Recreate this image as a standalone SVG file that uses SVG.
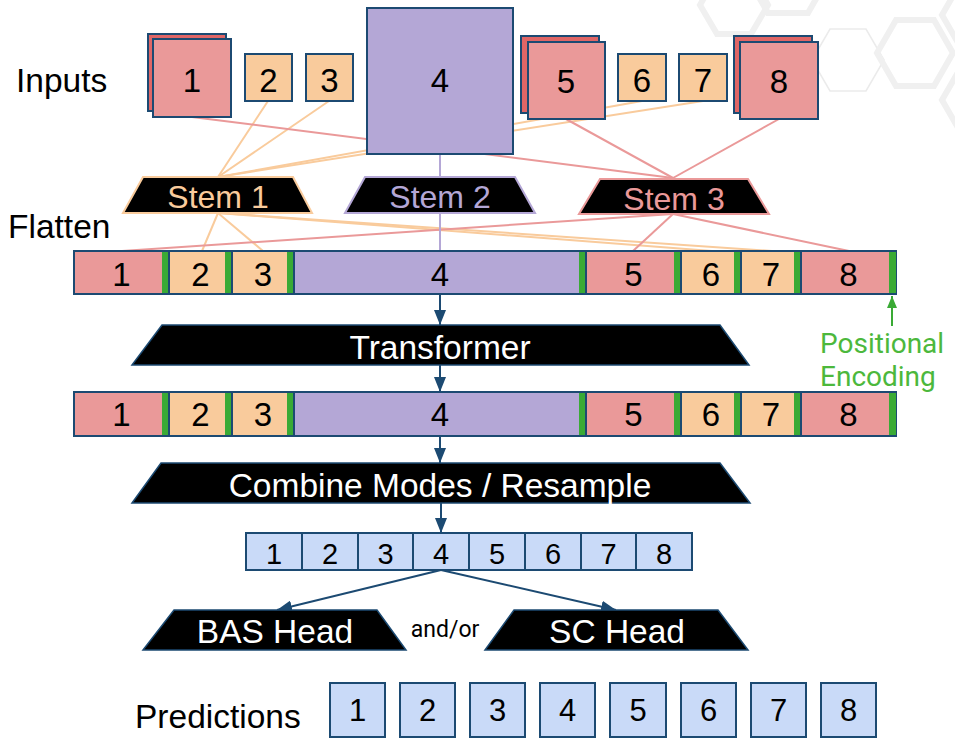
<svg xmlns="http://www.w3.org/2000/svg" width="955" height="741" viewBox="0 0 955 741">
<style>
  .lbl{font-family:"Liberation Sans",Arial,sans-serif;font-size:33.5px;fill:#000}
  .num{font-family:"Liberation Sans",Arial,sans-serif;font-size:33px;fill:#000;text-anchor:middle}
  .numS{font-family:"Liberation Sans",Arial,sans-serif;font-size:29px;fill:#000;text-anchor:middle}
  .numP{font-family:"Liberation Sans",Arial,sans-serif;font-size:31px;fill:#000;text-anchor:middle}
  .box{stroke:#1c4a72;stroke-width:2}
  .pink{fill:#EA9999}
  .pinkD{fill:#E06666}
  .peach{fill:#F9CB9C}
  .purple{fill:#B4A7D6}
  .blue{fill:#C9DAF8}
  .pe{fill:#3aaa35}
  .trap{fill:#000}
  .ttxt{font-family:"Liberation Sans",Arial,sans-serif;font-size:33.5px;fill:#fff;text-anchor:middle}
  .stxt{font-family:"Liberation Sans",Arial,sans-serif;font-size:32px;text-anchor:middle}
  .lp{stroke:#F9CB9C;stroke-width:2;fill:none}
  .lk{stroke:#EA9999;stroke-width:2;fill:none}
  .lv{stroke:#B4A7D6;stroke-width:2;fill:none}
  .arr{stroke:#1c4a72;stroke-width:2;fill:none;marker-end:url(#ah)}
  .hexT{fill:none;stroke:#f0f0f0;stroke-width:6}
  .hext{fill:none;stroke:#ebebeb;stroke-width:1.5}
</style>
<defs>
  <marker id="ah" viewBox="0 0 15 12" refX="15" refY="6" markerWidth="15" markerHeight="12" markerUnits="userSpaceOnUse" orient="auto">
    <path d="M0,0 L15,6 L0,12 z" fill="#1c4a72"/>
  </marker>
  <marker id="ahg" viewBox="0 0 12 10" refX="12" refY="5" markerWidth="12" markerHeight="10" markerUnits="userSpaceOnUse" orient="auto">
    <path d="M0,0 L12,5 L0,10 z" fill="#3aaa35"/>
  </marker>
</defs>

<g id="background">
  <polygon class="hexT" points="700,5 717,-25 751,-25 768,5 751,34 717,34"/>
  <polygon class="hexT" points="748,-22 768,-57 808,-57 828,-22 808,13 768,13"/>
  <polygon class="hext" points="812,60 830,29 866,29 884,60 866,91 830,91"/>
  <polygon class="hexT" points="877,53 896,20 934,20 953,53 934,86 896,86"/>
  <polygon class="hexT" points="942,15 961,-18 999,-18 1018,15 999,48 961,48"/>
  <polygon class="hexT" points="942,100 961,67 999,67 1018,100 999,133 961,133"/>
</g>

<g id="connectors">
  <line class="lp" x1="268" y1="101" x2="218" y2="177"/>
  <line class="lp" x1="329" y1="101" x2="218" y2="177"/>
  <line class="lp" x1="642" y1="101" x2="218" y2="177"/>
  <line class="lp" x1="703" y1="101" x2="218" y2="177"/>
  <line class="lp" x1="218" y1="213" x2="202" y2="251"/>
  <line class="lp" x1="218" y1="213" x2="263" y2="251"/>
  <line class="lp" x1="218" y1="213" x2="712" y2="251"/>
  <line class="lp" x1="218" y1="213" x2="772" y2="251"/>
  <line class="lk" x1="192" y1="117" x2="673" y2="178"/>
  <line class="lk" x1="566" y1="119" x2="673" y2="178"/>
  <line class="lk" x1="779" y1="119" x2="673" y2="178"/>
  <line class="lk" x1="673" y1="214" x2="122" y2="251"/>
  <line class="lk" x1="673" y1="214" x2="633" y2="251"/>
  <line class="lk" x1="673" y1="214" x2="849" y2="251"/>
  <line class="lv" x1="440" y1="154" x2="440" y2="251"/>
  <line class="arr" x1="440" y1="295" x2="440" y2="325"/>
  <line class="arr" x1="440" y1="365" x2="440" y2="392"/>
  <line class="arr" x1="440" y1="436" x2="440" y2="463"/>
  <line class="arr" x1="441" y1="503" x2="441" y2="533"/>
  <line class="arr" x1="441" y1="570" x2="277" y2="610"/>
  <line class="arr" x1="441" y1="570" x2="616" y2="610"/>
  <line x1="892" y1="326" x2="892" y2="296" stroke="#3aaa35" stroke-width="2" marker-end="url(#ahg)"/>
</g>

<g id="labels">
  <text class="lbl" x="16" y="92">Inputs</text>
  <text class="lbl" x="8" y="238">Flatten</text>
  <text class="lbl" x="135" y="728">Predictions</text>
  <text x="820" y="353" style="font-family:Roboto,'Liberation Sans',sans-serif;font-size:28px;fill:#4cb83c">Positional</text>
  <text x="820" y="386" style="font-family:Roboto,'Liberation Sans',sans-serif;font-size:28px;fill:#4cb83c">Encoding</text>
  <text x="445" y="637" text-anchor="middle" style="font-family:Roboto,'Liberation Sans',sans-serif;font-size:23px;fill:#000">and/or</text>
</g>

<g id="input1">
  <rect class="box pinkD" x="148" y="34" width="78" height="77"/>
  <rect class="box pink" x="153" y="39" width="78" height="78"/>
  <text class="num" x="192" y="92">1</text>
</g>
<g id="input2">
  <rect class="box peach" x="245" y="54" width="47" height="47"/>
  <text class="num" x="268.5" y="92">2</text>
</g>
<g id="input3">
  <rect class="box peach" x="306" y="54" width="47" height="47"/>
  <text class="num" x="329.5" y="92">3</text>
</g>
<g id="input4">
  <rect class="box purple" x="367" y="8" width="146" height="146"/>
  <text class="num" x="440" y="92">4</text>
</g>
<g id="input5">
  <rect class="box pinkD" x="521" y="36" width="78" height="77"/>
  <rect class="box pink" x="528" y="42" width="77" height="77"/>
  <text class="num" x="566" y="93">5</text>
</g>
<g id="input6">
  <rect class="box peach" x="618" y="54" width="48" height="47"/>
  <text class="num" x="642" y="92">6</text>
</g>
<g id="input7">
  <rect class="box peach" x="679" y="54" width="48" height="47"/>
  <text class="num" x="703" y="92">7</text>
</g>
<g id="input8">
  <rect class="box pinkD" x="734" y="36" width="78" height="77"/>
  <rect class="box pink" x="740" y="42" width="78" height="77"/>
  <text class="num" x="779" y="93">8</text>
</g>

<g id="stem1">
  <polygon class="trap" points="143,177 293,177 312,213 123,213" stroke="#F9CB9C" stroke-width="2"/>
  <text class="stxt" x="218" y="208" fill="#F9CB9C">Stem 1</text>
</g>
<g id="stem2">
  <polygon class="trap" points="365,177 515,177 535,213 345,213" stroke="#B4A7D6" stroke-width="2"/>
  <text class="stxt" x="440" y="208" fill="#B4A7D6">Stem 2</text>
</g>
<g id="stem3">
  <polygon class="trap" points="600,179 748,179 769,214 579,214" stroke="#EA9999" stroke-width="2"/>
  <text class="stxt" x="674" y="210" fill="#EA9999">Stem 3</text>
</g>

<g id="flatten">
  <rect class="box pink" x="74" y="251" width="95" height="43"/><rect class="pe" x="162" y="252" width="7" height="41"/>
  <rect class="box peach" x="169" y="251" width="63" height="43"/><rect class="pe" x="225" y="252" width="7" height="41"/>
  <rect class="box peach" x="232" y="251" width="62" height="43"/><rect class="pe" x="287" y="252" width="7" height="41"/>
  <rect class="box purple" x="294" y="251" width="292" height="43"/><rect class="pe" x="579" y="252" width="7" height="41"/>
  <rect class="box pink" x="586" y="251" width="95" height="43"/><rect class="pe" x="674" y="252" width="7" height="41"/>
  <rect class="box peach" x="681" y="251" width="60" height="43"/><rect class="pe" x="734" y="252" width="7" height="41"/>
  <rect class="box peach" x="741" y="251" width="60" height="43"/><rect class="pe" x="794" y="252" width="7" height="41"/>
  <rect class="box pink" x="801" y="251" width="95" height="43"/><rect class="pe" x="889" y="252" width="7" height="41"/>
  <text class="num" x="121.5" y="286">1</text>
  <text class="num" x="200.5" y="286">2</text>
  <text class="num" x="263" y="286">3</text>
  <text class="num" x="440" y="286">4</text>
  <text class="num" x="633.5" y="286">5</text>
  <text class="num" x="711" y="286">6</text>
  <text class="num" x="771" y="286">7</text>
  <text class="num" x="848.5" y="286">8</text>
</g>

<g id="transformer">
  <polygon class="trap" points="162,325 720,325 749,365 132,365" stroke="#1c4a72" stroke-width="1.5"/>
  <text class="ttxt" x="440" y="359">Transformer</text>
</g>

<g id="encoded">
  <rect class="box pink" x="74" y="392" width="95" height="44"/><rect class="pe" x="162" y="393" width="7" height="42"/>
  <rect class="box peach" x="169" y="392" width="63" height="44"/><rect class="pe" x="225" y="393" width="7" height="42"/>
  <rect class="box peach" x="232" y="392" width="62" height="44"/><rect class="pe" x="287" y="393" width="7" height="42"/>
  <rect class="box purple" x="294" y="392" width="292" height="44"/><rect class="pe" x="579" y="393" width="7" height="42"/>
  <rect class="box pink" x="586" y="392" width="95" height="44"/><rect class="pe" x="674" y="393" width="7" height="42"/>
  <rect class="box peach" x="681" y="392" width="60" height="44"/><rect class="pe" x="734" y="393" width="7" height="42"/>
  <rect class="box peach" x="741" y="392" width="60" height="44"/><rect class="pe" x="794" y="393" width="7" height="42"/>
  <rect class="box pink" x="801" y="392" width="95" height="44"/><rect class="pe" x="889" y="393" width="7" height="42"/>
  <text class="num" x="121.5" y="426">1</text>
  <text class="num" x="200.5" y="426">2</text>
  <text class="num" x="263" y="426">3</text>
  <text class="num" x="440" y="426">4</text>
  <text class="num" x="633.5" y="426">5</text>
  <text class="num" x="711" y="426">6</text>
  <text class="num" x="771" y="426">7</text>
  <text class="num" x="848.5" y="426">8</text>
</g>

<g id="combine">
  <polygon class="trap" points="161,463 720,463 750,503 132,503" stroke="#1c4a72" stroke-width="1.5"/>
  <text class="ttxt" x="440" y="497">Combine Modes / Resample</text>
</g>

<g id="combined">
  <rect class="box blue" x="246" y="533" width="56" height="37"/>
  <rect class="box blue" x="302" y="533" width="56" height="37"/>
  <rect class="box blue" x="358" y="533" width="55" height="37"/>
  <rect class="box blue" x="413" y="533" width="56" height="37"/>
  <rect class="box blue" x="469" y="533" width="56" height="37"/>
  <rect class="box blue" x="525" y="533" width="56" height="37"/>
  <rect class="box blue" x="581" y="533" width="55" height="37"/>
  <rect class="box blue" x="636" y="533" width="56" height="37"/>
  <text class="numS" x="274" y="564">1</text>
  <text class="numS" x="330" y="564">2</text>
  <text class="numS" x="385.5" y="564">3</text>
  <text class="numS" x="441" y="564">4</text>
  <text class="numS" x="497" y="564">5</text>
  <text class="numS" x="553" y="564">6</text>
  <text class="numS" x="608.5" y="564">7</text>
  <text class="numS" x="664" y="564">8</text>
</g>

<g id="basHead">
  <polygon class="trap" points="174,610 377,610 406,650 143,650" stroke="#1c4a72" stroke-width="1.5"/>
  <text class="ttxt" x="275" y="643">BAS Head</text>
</g>
<g id="scHead">
  <polygon class="trap" points="514,610 718,610 748,650 485,650" stroke="#1c4a72" stroke-width="1.5"/>
  <text class="ttxt" x="617" y="643">SC Head</text>
</g>

<g id="predictions">
  <rect class="box blue" x="330" y="683" width="55" height="54"/>
  <rect class="box blue" x="400" y="683" width="55" height="54"/>
  <rect class="box blue" x="470" y="683" width="55" height="54"/>
  <rect class="box blue" x="540" y="683" width="55" height="54"/>
  <rect class="box blue" x="610" y="683" width="56" height="54"/>
  <rect class="box blue" x="681" y="683" width="55" height="54"/>
  <rect class="box blue" x="751" y="683" width="55" height="54"/>
  <rect class="box blue" x="821" y="683" width="55" height="54"/>
  <text class="numP" x="357.5" y="721">1</text>
  <text class="numP" x="427.5" y="721">2</text>
  <text class="numP" x="497.5" y="721">3</text>
  <text class="numP" x="567.5" y="721">4</text>
  <text class="numP" x="638" y="721">5</text>
  <text class="numP" x="708.5" y="721">6</text>
  <text class="numP" x="778.5" y="721">7</text>
  <text class="numP" x="848.5" y="721">8</text>
</g>
</svg>
